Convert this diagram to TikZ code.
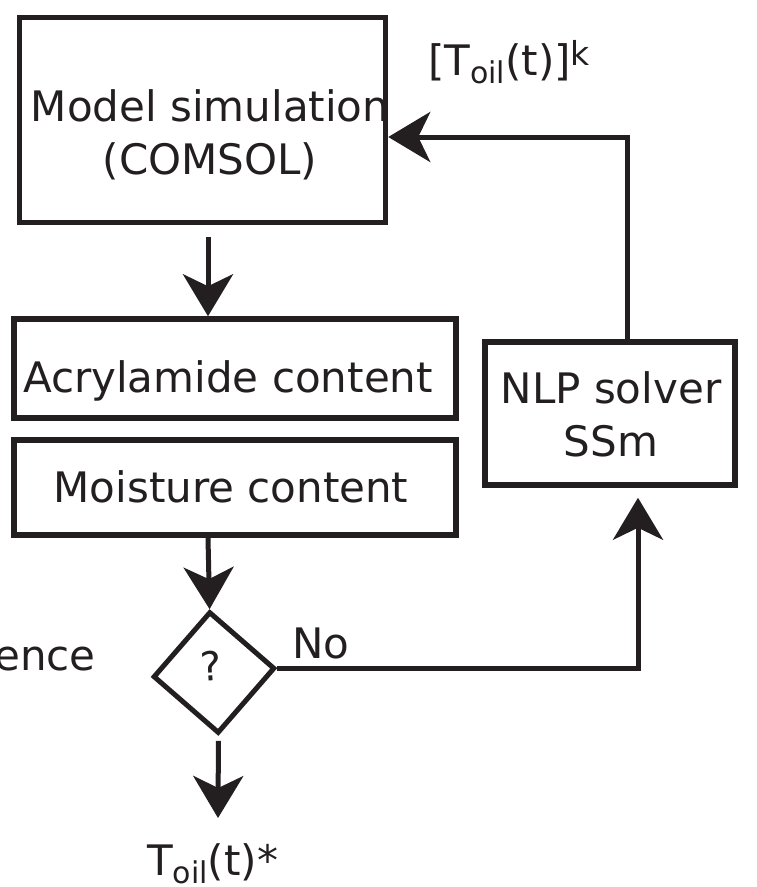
\documentclass[tikz,border=0pt]{standalone}
\usepackage{fontspec}
\setmainfont{DejaVu Sans}
\usetikzlibrary{arrows.meta,shapes.geometric}
\definecolor{ink}{RGB}{35,31,32}
\begin{document}
\begin{tikzpicture}[x=1pt,y=-1pt,
  box/.style={draw=ink, line width=5.5pt, inner sep=0pt},
  lbl/.style={font=\fontsize{42}{53}\selectfont, text=ink, inner sep=0pt},
  sub/.style={},
  arr/.style={draw=ink, line width=5pt, -{Stealth[length=42pt,width=50pt,inset=12pt]}}]
\useasboundingbox (0,0) rectangle (757,887);
% boxes
\node[box, minimum width=366pt, minimum height=205pt] (model) at (202.5,120) {};
\node[lbl, align=center] (modeltxt) at (210,135) {Model simulation\\(COMSOL)};
\node[box, minimum width=442pt, minimum height=99pt] (acryl) at (235,368.5) {};
\node[lbl, anchor=base] (acrtxt) at (228,392) {Acrylamide content};
\node[box, minimum width=442pt, minimum height=95pt] (moist) at (235,487.5) {};
\node[lbl, anchor=base] (moisttxt) at (231,502) {Moisture content};
\node[box, minimum width=250pt, minimum height=143pt] (nlp) at (610,413.5) {};
\node[lbl, align=center] (nlptxt) at (611,414.5) {NLP solver\\SSm};
% decision
\node[diamond, draw=ink, line width=5pt, minimum width=122pt, minimum height=122pt, inner sep=0pt, rotate=4] (dia) at (214,672.5) {};
\node[font=\fontsize{40}{40}\selectfont, text=ink, inner sep=0pt, rotate=4] (q) at (211,666) {?};
% labels
\node[lbl, anchor=base west] (no) at (292,658) {No};
\node[lbl, anchor=base east] (conv) at (96,670) {ence};
\node[lbl, anchor=base west] (tk) at (428,75) {[T\raisebox{-8pt}{\fontsize{30}{30}\selectfont oil}(t)]\raisebox{10pt}{\fontsize{33}{33}\selectfont k}};
\node[lbl, anchor=base west] (toil) at (147,875) {T\raisebox{-8pt}{\fontsize{30}{30}\selectfont oil}(t)*};
% connectors
\coordinate (a1s) at (208,237);
\coordinate (a2s) at (208,537);
\coordinate (a3e) at (218,818);
\coordinate (c1) at (638,667);
\coordinate (c2) at (627,137);
\draw[arr] (a1s) -- (a1s |- acryl.north);
\draw[arr] (moist.south -| a2s) -- (dia.north);
\draw[arr] ([yshift=-5pt]dia.south) -- (a3e);
\draw[arr] (dia.east) -- (dia.east -| c1) -- ([yshift=-10pt]c1 |- nlp.south);
\draw[arr] (c2 |- nlp.north) -- (c2) -- (c2 -| model.east);
\end{tikzpicture}
\end{document}
